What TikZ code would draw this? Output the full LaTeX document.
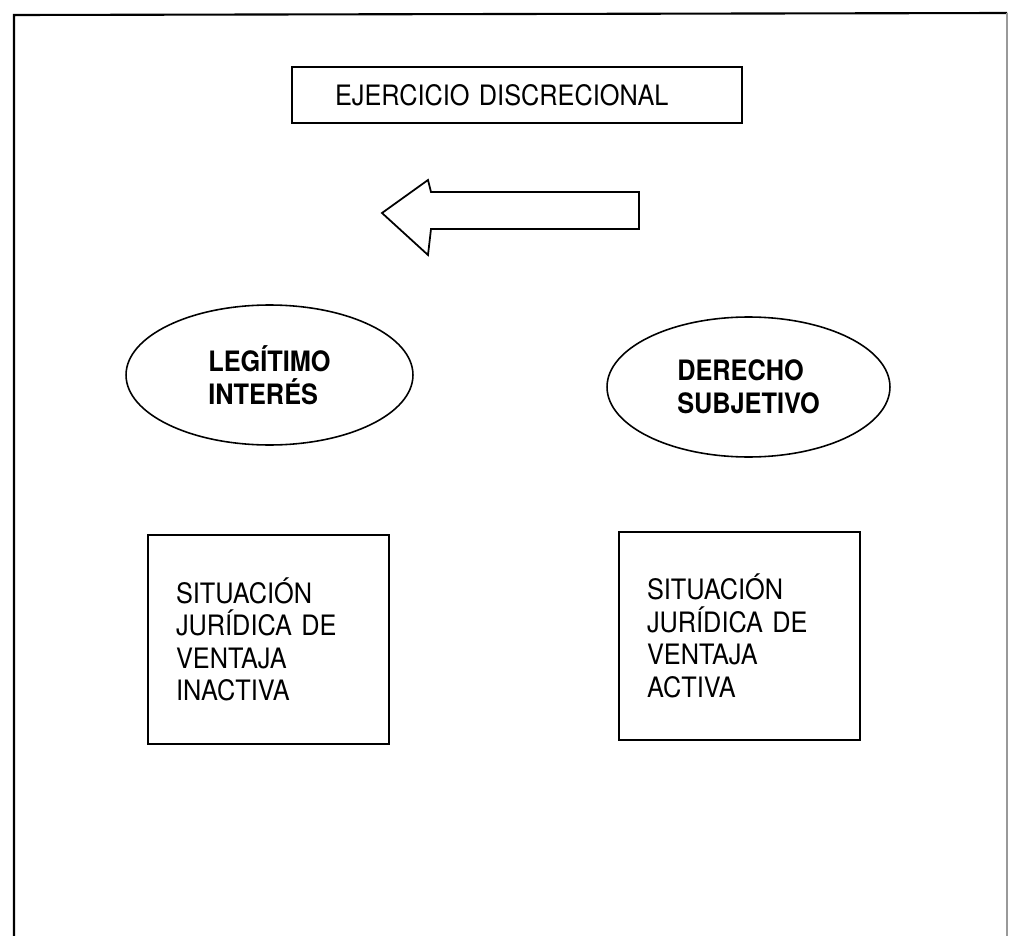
\documentclass[tikz,border=0pt]{standalone}
\usepackage{fontspec}
\setmainfont{TeX Gyre Heros}[FakeStretch=0.9]
\usetikzlibrary{shapes}
\tikzstyle{caja}=[draw, line width=1pt, align=left, inner ysep=0pt, font=\fontsize{16}{18.5}\selectfont]
\tikzstyle{elipse}=[ellipse, draw, line width=0.9pt, align=left, inner sep=0pt, font=\bfseries\fontsize{16}{18.5}\selectfont]

\begin{document}
\begin{tikzpicture}[x=0.02cm, y=-0.02cm]
			\useasboundingbox (0,0) rectangle (1011,936);
			% marco
			\draw[line width=1.2pt] (14,936) -- (14,15) -- (1007,13);
			\draw[line width=0.8pt, black!40] (1007,13) -- (1007,936);

			\node[caja, text width=7.28cm, inner xsep=0.86cm, minimum height=1.12cm] (ejercicio) at (517,95) {EJERCICIO DISCRECIONAL};

			% flecha
			\draw[line width=1pt, line join=miter] (382,213) -- (428,180) -- (431,192) -- (639,192) -- (639,229) -- (431,229) -- (428,255) -- cycle;

			\node[elipse, minimum width=5.74cm, minimum height=2.8cm] (interes) at (269.5,375) {LEGÍTIMO\\INTERÉS};
			\node[elipse, minimum width=5.66cm, minimum height=2.8cm] (derecho) at (748.5,387) {DERECHO\\SUBJETIVO};

			\node[caja, text width=3.7cm, inner xsep=0.56cm, minimum height=4.18cm] (inactiva) at (268.5,639.5) {SITUACIÓN\\JURÍDICA DE\\VENTAJA\\INACTIVA};
			\node[caja, text width=3.7cm, inner xsep=0.56cm, minimum height=4.16cm] (activa) at (739.5,636) {SITUACIÓN\\JURÍDICA DE\\VENTAJA\\ACTIVA};
		\end{tikzpicture}
\end{document}
